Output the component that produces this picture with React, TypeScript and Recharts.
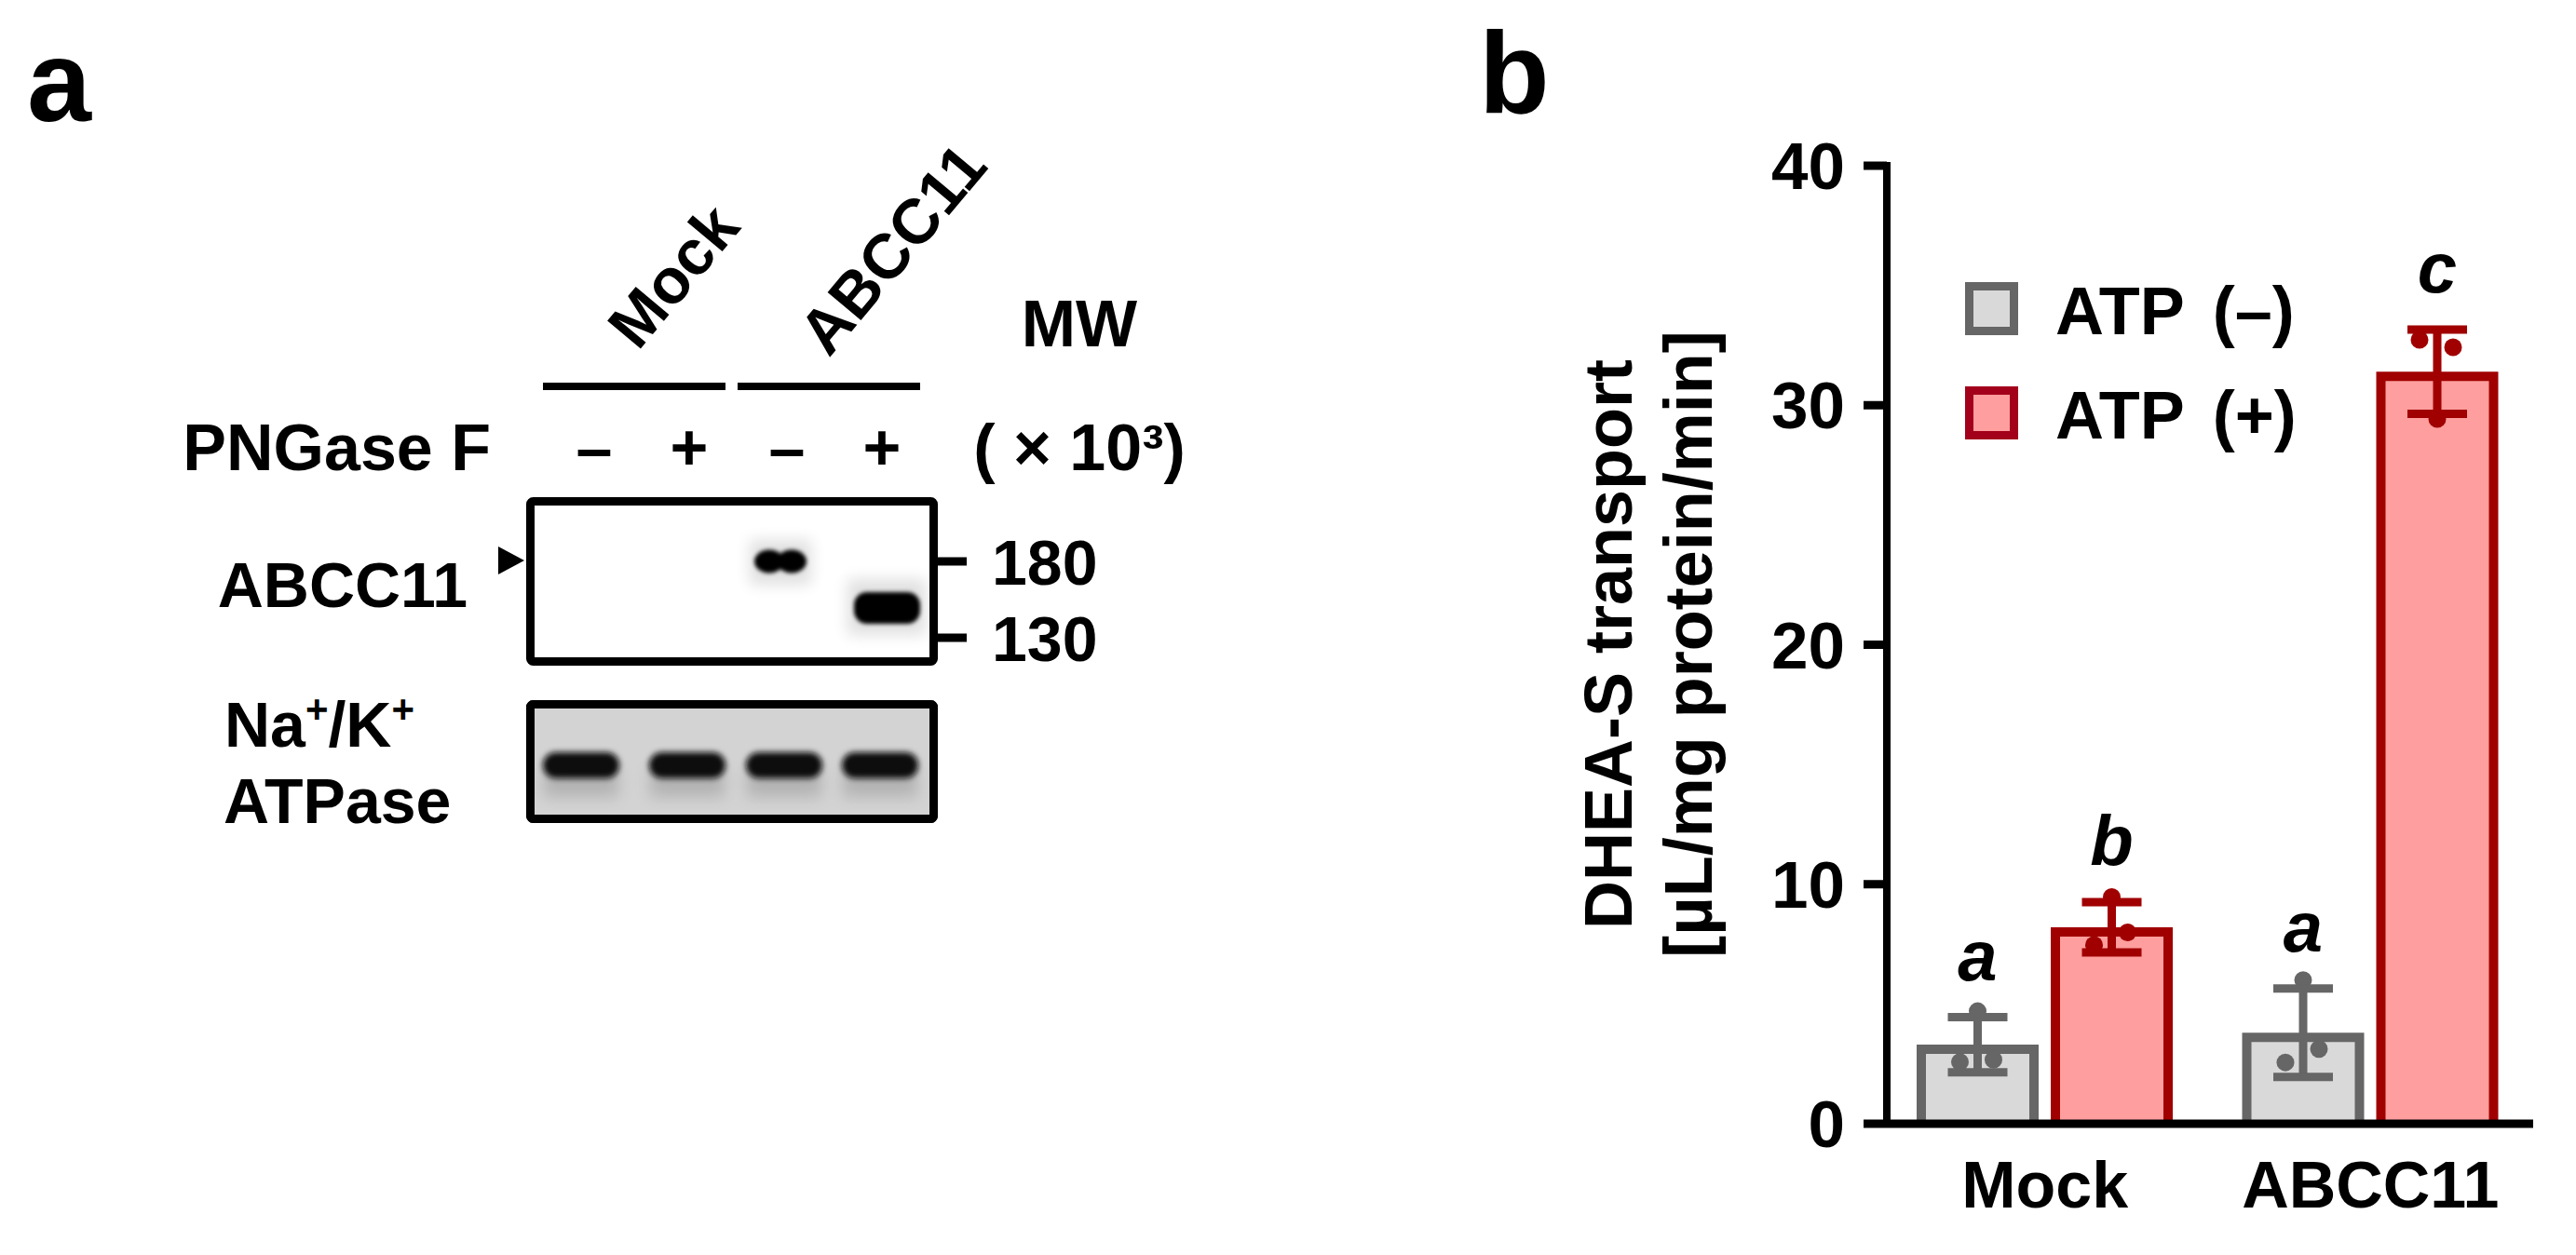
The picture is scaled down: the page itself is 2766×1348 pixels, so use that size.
import React from 'react';
import { BarChart, Bar, XAxis, YAxis, ErrorBar, Legend } from 'recharts';

// ---------------- data (panel b) ----------------
const categories = ['Mock', 'ABCC11'];
const atpMinusMean = [3.3, 3.8];
const atpMinusSD = [1.15, 1.85];
const atpPlusMean = [8.2, 31.4];
const atpPlusSD = [1.05, 1.76];
// replicate points, order: [centre, left, right]
const atpMinusPoints = [
  [4.7, 2.58, 2.67],
  [6.0, 2.56, 3.12],
];
const atpPlusPoints = [
  [9.47, 7.46, 7.99],
  [29.43, 32.73, 32.42],
];
const atpMinusLetters = ['a', 'a'];
const atpPlusLetters = ['b', 'c'];
const seriesNames = ['ATP (–)', 'ATP (+)'];
const yTicks = [0, 10, 20, 30, 40];

// ---------------- labels (panel a) ----------------
const blotGroups = ['Mock', 'ABCC11'];
const pngaseTreatment = ['–', '+', '–', '+'];
const mwMarkers = ['180', '130'];

// ---------------- style ----------------
const FONT = "'Liberation Sans', Arial, Helvetica, sans-serif";
const GRAY_FILL = '#d9d9d9';
const GRAY_STROKE = '#666666';
const RED_FILL = '#fe9e9e';
const RED_STROKE = '#a00000';
const LEGEND_STYLES = [
  { fill: GRAY_FILL, stroke: GRAY_STROKE },
  { fill: RED_FILL, stroke: '#a3001c' },
];
const BAR_STROKE = 10;
const DOT_R = 9.5;
const JITTER = [0, -19, 17];
const LETTER_GAP = 40;

const data = categories.map((c, i) => ({
  cat: c,
  minus: atpMinusMean[i],
  minusSD: atpMinusSD[i],
  minusPts: atpMinusPoints[i],
  minusLetter: atpMinusLetters[i],
  plus: atpPlusMean[i],
  plusSD: atpPlusSD[i],
  plusPts: atpPlusPoints[i],
  plusLetter: atpPlusLetters[i],
}));

type ShapeCfg = { meanKey: string; sdKey: string; ptsKey: string; letterKey: string; fill: string; stroke: string };

function makeBarShape(cfg: ShapeCfg) {
  return (props: any) => {
    const { x, y, width, height, payload } = props;
    const mean = payload[cfg.meanKey];
    const sd = payload[cfg.sdKey];
    const pts: number[] = payload[cfg.ptsKey];
    const letter = payload[cfg.letterKey];
    const bottom = y + height;
    const k = height / mean;
    const hs = BAR_STROKE / 2;
    const cx = x + width / 2;
    const end = bottom - 4;
    const topErr = bottom - (mean + sd) * k;
    return (
      <g>
        <rect x={x + hs} y={y + hs} width={width - BAR_STROKE} height={Math.max(0, end - y - hs)} fill={cfg.fill} />
        <path
          d={`M${x + hs},${end} L${x + hs},${y + hs} L${x + width - hs},${y + hs} L${x + width - hs},${end}`}
          fill="none"
          stroke={cfg.stroke}
          strokeWidth={BAR_STROKE}
        />
        {pts.map((v, j) => (
          <circle key={j} cx={cx + JITTER[j]} cy={bottom - v * k} r={DOT_R} fill={cfg.stroke} />
        ))}
        <text
          x={cx}
          y={topErr - LETTER_GAP}
          textAnchor="middle"
          fontSize={76}
          fontWeight={700}
          fontStyle="italic"
          fontFamily={FONT}
          fill="#000"
        >
          {letter}
        </text>
      </g>
    );
  };
}

const minusShape = makeBarShape({ meanKey: 'minus', sdKey: 'minusSD', ptsKey: 'minusPts', letterKey: 'minusLetter', fill: GRAY_FILL, stroke: GRAY_STROKE });
const plusShape = makeBarShape({ meanKey: 'plus', sdKey: 'plusSD', ptsKey: 'plusPts', letterKey: 'plusLetter', fill: RED_FILL, stroke: RED_STROKE });

const renderLegend = (props: any) => {
  const payload = props.payload || [];
  return (
    <svg width={420} height={180} style={{ display: 'block', overflow: 'visible' }}>
      {payload.map((entry: any, n: number) => {
        const found = seriesNames.indexOf(String(entry.value));
        const i = found >= 0 ? found : n;
        const st = LEGEND_STYLES[i] || LEGEND_STYLES[0];
        const parts = String(entry.value).split(' ');
        return (
          <g key={i} transform={`translate(0, ${i * 112})`}>
            <rect x={4.5} y={4.5} width={48} height={48} fill={st.fill} stroke={st.stroke} strokeWidth={9} />
            <text x={97} y={56} fontSize={72} fontWeight={700} fontFamily={FONT} fill="#000">
              <tspan>{parts[0]}</tspan>
              <tspan dx={30}>{parts.slice(1).join(' ')}</tspan>
            </text>
          </g>
        );
      })}
    </svg>
  );
};

const laneSignX = [638, 740, 845, 947];
const laneBandX = [624, 738, 842, 945];

function PanelA() {
  const t = { fontFamily: FONT, fontWeight: 700, fill: '#000' } as any;
  return (
    <g>
      <defs>
        <filter id="bl2" x="-50%" y="-50%" width="200%" height="200%">
          <feGaussianBlur stdDeviation="2.2" />
        </filter>
        <filter id="bl3" x="-50%" y="-50%" width="200%" height="200%">
          <feGaussianBlur stdDeviation="3" />
        </filter>
        <filter id="bl8" x="-50%" y="-50%" width="200%" height="200%">
          <feGaussianBlur stdDeviation="8" />
        </filter>
      </defs>
      <text x={29} y={130} fontSize={124} {...t}>a</text>

      {/* group labels */}
      <text x={685} y={378} fontSize={68} transform="rotate(-50 685 378)" {...t}>{blotGroups[0]}</text>
      <text x={890} y={385} fontSize={68} transform="rotate(-50 890 385)" {...t}>{blotGroups[1]}</text>
      <line x1={583} y1={415} x2={779} y2={415} stroke="#000" strokeWidth={8} />
      <line x1={792} y1={415} x2={988} y2={415} stroke="#000" strokeWidth={8} />

      <text x={527} y={505} fontSize={70} textAnchor="end" {...t}>PNGase F</text>
      {pngaseTreatment.map((s, i) => (
        <text key={i} x={laneSignX[i]} y={505} fontSize={70} textAnchor="middle" {...t}>{s}</text>
      ))}
      <text x={1159} y={372} fontSize={70} textAnchor="middle" {...t}>MW</text>
      <text x={1159} y={505} fontSize={70} textAnchor="middle" {...t}>( × 10³)</text>

      {/* ABCC11 blot */}
      <rect x={569.5} y={538.5} width={433} height={172} fill="#fff" stroke="#000" strokeWidth={9} rx={3} />
      <g filter="url(#bl8)" opacity={0.12}>
        <rect x={805} y={580} width={66} height={48} fill="#000" />
        <rect x={910} y={622} width={84} height={60} fill="#000" />
      </g>
      <g filter="url(#bl2)">
        <ellipse cx={826} cy={603} rx={16} ry={12.5} fill="#050505" />
        <ellipse cx={850} cy={603} rx={16} ry={12.5} fill="#050505" />
        <rect x={826} y={597} width={24} height={12} fill="#050505" />
        <rect x={917} y={636} width={71} height={34} rx={14} fill="#000" />
      </g>
      <polygon points="535,587 535,617 563,602" fill="#000" />
      <text x={502} y={652} fontSize={68} textAnchor="end" {...t}>ABCC11</text>
      {[603, 685].map((yy, i) => (
        <g key={i}>
          <line x1={1005} y1={yy} x2={1038} y2={yy} stroke="#000" strokeWidth={9} />
          <text x={1065} y={yy + 25} fontSize={68} {...t}>{mwMarkers[i]}</text>
        </g>
      ))}

      {/* Na/K ATPase blot */}
      <rect x={569.5} y={756.5} width={433} height={123} fill="#d3d3d3" stroke="#000" strokeWidth={9} rx={3} />
      <g filter="url(#bl8)" opacity={0.25}>
        {laneBandX.map((cx, i) => (
          <rect key={i} x={cx - 40} y={826} width={80} height={30} fill="#555" />
        ))}
      </g>
      <g filter="url(#bl3)">
        {laneBandX.map((cx, i) => (
          <rect key={i} x={cx - 41} y={808} width={82} height={28} rx={14} fill="#0a0a0a" />
        ))}
      </g>
      <rect x={569.5} y={756.5} width={433} height={123} fill="none" stroke="#000" strokeWidth={9} rx={3} />
      <text x={241} y={802} fontSize={68} {...t}>
        <tspan>Na</tspan>
        <tspan fontSize={42} dy={-26}>+</tspan>
        <tspan dy={26}>/K</tspan>
        <tspan fontSize={42} dy={-26}>+</tspan>
      </text>
      <text x={240} y={884} fontSize={68} {...t}>ATPase</text>
    </g>
  );
}

function Overlay() {
  const t = { fontFamily: FONT, fontWeight: 700, fill: '#000' } as any;
  return (
    <svg
      width={2766}
      height={1348}
      style={{ position: 'absolute', left: 0, top: 0, pointerEvents: 'none' }}
    >
      <PanelA />
      <text x={1588} y={121} fontSize={124} {...t}>b</text>
      <text x={1752} y={692} fontSize={72} textAnchor="middle" transform="rotate(-90 1752 692)" {...t}>
        DHEA-S transport
      </text>
      <text x={1838} y={692} fontSize={72} textAnchor="middle" transform="rotate(-90 1838 692)" {...t}>
        [µL/mg protein/min]
      </text>
    </svg>
  );
}

export default function App() {
  return (
    <div
      style={{
        position: 'absolute',
        left: 0,
        top: 0,
        width: 2766,
        height: 1348,
        background: '#fff',
        overflow: 'hidden',
      }}
    >
      <div style={{ position: 'absolute', left: 0, top: 0 }}>
        <BarChart
          width={2766}
          height={1348}
          data={data}
          margin={{ top: 178, right: 46, bottom: 41, left: 1926 }}
          barGap={13}
          style={{ fontFamily: FONT }}
        >
          <Bar
            dataKey="minus"
            name={seriesNames[0]}
            fill={GRAY_FILL}
            stroke={GRAY_STROKE}
            barSize={131}
            shape={minusShape}
            isAnimationActive={false}
          >
            <ErrorBar dataKey="minusSD" width={32} stroke={GRAY_STROKE} strokeWidth={9} />
          </Bar>
          <Bar
            dataKey="plus"
            name={seriesNames[1]}
            fill={RED_FILL}
            stroke={RED_STROKE}
            barSize={131}
            shape={plusShape}
            isAnimationActive={false}
          >
            <ErrorBar dataKey="plusSD" width={32} stroke={RED_STROKE} strokeWidth={9} />
          </Bar>
          <XAxis
            dataKey="cat"
            height={100}
            padding={{ left: -5, right: 0 }}
            axisLine={{ stroke: '#000', strokeWidth: 9 }}
            tickLine={false}
            tickSize={0}
            tickMargin={40}
            tick={{ fontSize: 70, fontWeight: 700, fill: '#000', fontFamily: FONT }}
            interval={0}
          />
          <YAxis
            width={100}
            domain={[0, 40]}
            ticks={yTicks}
            interval={0}
            axisLine={{ stroke: '#000', strokeWidth: 8, strokeLinecap: 'square' }}
            tickLine={{ stroke: '#000', strokeWidth: 9 }}
            tickSize={25}
            tickMargin={20}
            tick={{ fontSize: 71, fontWeight: 700, fill: '#000', fontFamily: FONT }}
          />
          <Legend
            content={renderLegend}
            layout="horizontal"
            align="center"
            verticalAlign="middle"
            wrapperStyle={{ left: 2110, top: 303, width: 420, height: 180 }}
          />
        </BarChart>
      </div>
      <Overlay />
    </div>
  );
}
